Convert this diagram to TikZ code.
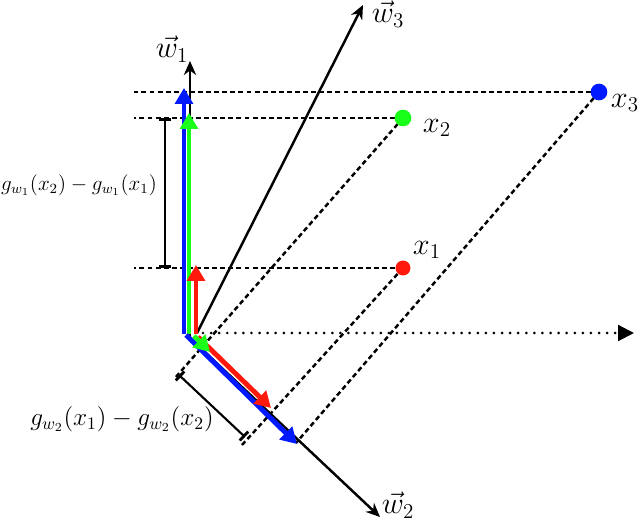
\documentclass[tikz,border=0pt]{standalone}
\usetikzlibrary{arrows.meta}
\begin{document}
\begin{tikzpicture}[x=0.02cm,y=-0.02cm,
  proj/.style={line width=1.4pt, dash pattern=on 2.8pt off 1.8pt},
  dotl/.style={line width=1.7pt, line cap=round, dash pattern=on 0pt off 4.6pt},
  axis/.style={line width=1.4pt, -{Stealth[length=8pt,width=7pt]}},
  vec/.style={line width=2.8pt, -{Triangle[length=9pt,width=10pt]}},
  dot/.style={circle, inner sep=0pt, minimum size=9.5pt},
  meas/.style={line width=1.2pt, {Bar[width=7pt,line width=1.6pt]}-{Bar[width=7pt,line width=1.6pt]}},
  lab/.style={font=\fontsize{17}{19}\selectfont, inner sep=0pt}]
\definecolor{cblue}{rgb}{0,0.1,1}
\definecolor{cgreen}{rgb}{0.1,1,0.1}
\definecolor{cred}{rgb}{1,0.1,0.05}
\useasboundingbox (0,0) rectangle (640,520);

% points
\coordinate (P1) at (403,268);
\coordinate (P2) at (403,118);
\coordinate (P3) at (599,92);
% left ends of horizontal projection lines
\coordinate (L1) at (134,268);
\coordinate (L2) at (134,118);
\coordinate (L3) at (134,92);
% ends of diagonal projection lines
\coordinate (D1) at (242,445);
\coordinate (D2) at (175,378);
\coordinate (D3) at (296,443);

% projection lines
\draw[proj] (P1) -- (L1);
\draw[proj] (P2) -- (L2);
\draw[proj] (P3) -- (L3);
\draw[proj] (P1) -- (D1);
\draw[proj] (P2) -- (D2);
\draw[proj] (P3) -- (D3);

% dotted horizontal axis
\coordinate (H0) at (203,333);
\coordinate (H1) at (634,333);
\draw[dotl] (H0) -- (621,333);
\draw[line width=1.2pt, -{Triangle[length=9pt,width=9pt]}] (620,333) -- (H1);

% axes
\coordinate (O1) at (190,337);
\coordinate (W1) at (190,61);
\coordinate (O3) at (197,333);
\coordinate (W3) at (363,5);
\coordinate (O2) at (190,338);
\coordinate (W2) at (380,517);
\draw[axis] (O1) -- (W1);
\draw[axis] (O3) -- (W3);
\draw[axis] (O2) -- (W2);

% measurement bars
\coordinate (M1a) at (165,118);
\coordinate (M1b) at (165,268);
\draw[meas] (M1a) -- (M1b);
\coordinate (M2a) at (179,375);
\coordinate (M2b) at (245,437);
\draw[meas] (M2a) -- (M2b);

% vertical vectors
\coordinate (BV0) at (184,334);
\coordinate (BV1) at (184,88);
\coordinate (GV0) at (189,334);
\coordinate (GV1) at (189,113);
\coordinate (RV0) at (196,334);
\coordinate (RV1) at (196,265);
\draw[vec, cblue] (BV0) -- (BV1);
\draw[vec, cgreen] (GV0) -- (GV1);
\draw[vec, cred] (RV0) -- (RV1);

% vectors along w2
\coordinate (BD0) at (186,335);
\coordinate (BD1) at (297,444);
\coordinate (RD0) at (198,337);
\coordinate (RD1) at (271,408);
\coordinate (GD0) at (194,336);
\coordinate (GD1) at (210,352);
\draw[vec, cblue] (BD0) -- (BD1);
\draw[vec, cred] (RD0) -- (RD1);
\draw[vec, cgreen] (GD0) -- (GD1);

% data points
\node[dot, fill=cred, minimum size=8.5pt] (x1) at (P1) {};
\node[dot, fill=cgreen] (x2) at (P2) {};
\node[dot, fill=cblue] (x3) at (P3) {};

% labels
\node[lab] (lx1) at (427,250) {$x_1$};
\node[lab] (lx2) at (437,128) {$x_2$};
\node[lab] (lx3) at (625,103) {$x_3$};
\node[lab] (lw1) at (172,49) {$\vec{w}_1$};
\node[lab] (lw2) at (398,505) {$\vec{w}_2$};
\node[lab] (lw3) at (388,14) {$\vec{w}_3$};
\node[inner sep=0pt, font=\fontsize{11.5}{13}\selectfont] (g1) at (79,185) {$g_{w_1}(x_2)-g_{w_1}(x_1)$};
\node[inner sep=0pt, font=\fontsize{13.6}{15}\selectfont] (g2) at (122,419) {$g_{w_2}(x_1)-g_{w_2}(x_2)$};
\end{tikzpicture}
\end{document}
